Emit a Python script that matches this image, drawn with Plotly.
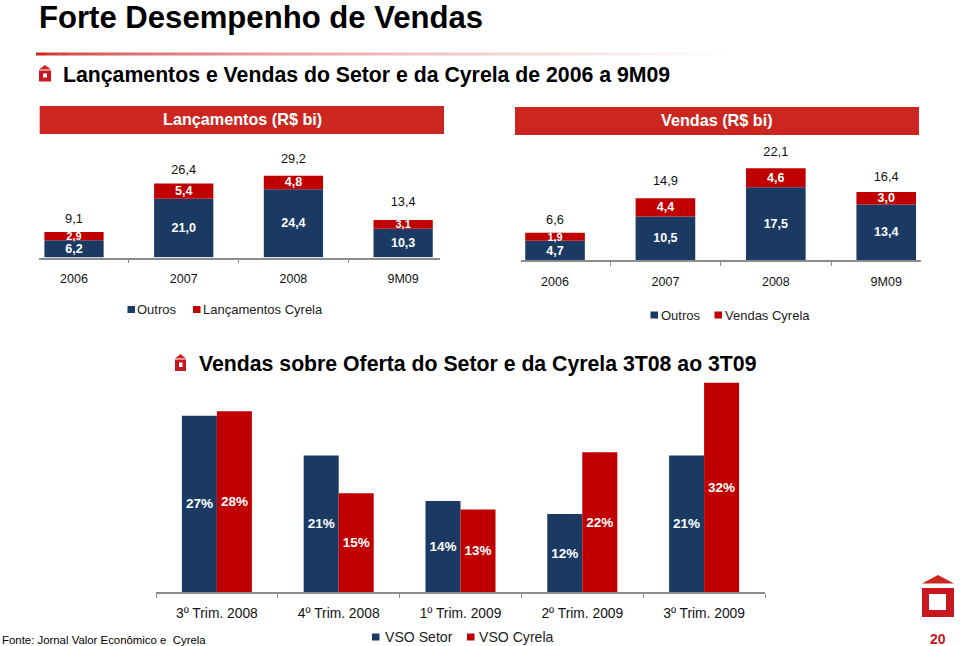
import plotly.graph_objects as go

# ---- data ----
anos = ["2006", "2007", "2008", "9M09"]
lanc_outros = [6.2, 21.0, 24.4, 10.3]
lanc_cyrela = [2.9, 5.4, 4.8, 3.1]
lanc_total = [9.1, 26.4, 29.2, 13.4]
vend_outros = [4.7, 10.5, 17.5, 13.4]
vend_cyrela = [1.9, 4.4, 4.6, 3.0]
vend_total = [6.6, 14.9, 22.1, 16.4]
trimestres = ["3º Trim. 2008", "4º Trim. 2008", "1º Trim. 2009", "2º Trim. 2009", "3º Trim. 2009"]
vso_setor = [27.1, 21.0, 14.0, 12.0, 21.0]
vso_cyrela = [27.8, 15.2, 12.7, 21.5, 32.2]

W, H = 960, 646
NAVY, RED, BANNER = "#1a3a63", "#c00000", "#cb2720"
FONT = "Liberation Sans"


def X(p):
    return p / W


def Y(p):
    return 1 - p / H


fig = go.Figure()
BW = 0.54


def stacked(xa, ya, cats, low, high, total, sizes_low, sizes_high, lift):
    fig.add_bar(x=cats, y=low, xaxis=xa, yaxis=ya, width=BW, offset=-BW / 2, marker_color=NAVY,
                marker_line_width=0, showlegend=False, texttemplate="%{y:.1f}", textposition="inside",
                insidetextanchor="middle", constraintext="none", textangle=0,
                textfont=dict(color="white", size=sizes_low, family=FONT, weight="bold"))
    fig.add_bar(x=cats, y=high, base=low, xaxis=xa, yaxis=ya, width=BW, offset=-BW / 2, marker_color=RED,
                marker_line_width=0, showlegend=False, texttemplate="%{y:.1f}", textposition="inside",
                insidetextanchor="middle", constraintext="none", textangle=0,
                textfont=dict(color="white", size=sizes_high, family=FONT, weight="bold"))
    # transparent markers only push the total labels up off the bars
    fig.add_scatter(x=cats, y=total, xaxis=xa, yaxis=ya, mode="markers+text", showlegend=False,
                    marker=dict(size=[1.6 * (e + 1) for e in lift], color="rgba(0,0,0,0)", line_width=0),
                    texttemplate="%{y:.1f}", textposition="top center", cliponaxis=False,
                    textfont=dict(color="#111111", size=12.8, family=FONT))


stacked("x", "y", anos, lanc_outros, lanc_cyrela, lanc_total, [12.5] * 4, [11, 12.5, 12.5, 11], [4, 4, 8, 9])
stacked("x2", "y2", anos, vend_outros, vend_cyrela, vend_total, [12.5] * 4, [11, 12.5, 12.5, 12.5], [4, 8, 6.5, 6])

GW = 0.2874
for vals, col, off in ((vso_setor, NAVY, -GW), (vso_cyrela, RED, 0)):
    fig.add_bar(x=trimestres, y=vals, xaxis="x3", yaxis="y3", width=GW, offset=off, marker_color=col,
                marker_line_width=0, showlegend=False, texttemplate="%{y:.0f}%", textposition="inside",
                insidetextanchor="middle", constraintext="none", textangle=0,
                textfont=dict(color="white", size=13.5, family=FONT, weight="bold"))


def xaxis(x0, x1, rng, size, standoff):
    return dict(domain=[X(x0), X(x1)], range=rng, type="category", tickson="boundaries", ticks="outside",
                ticklen=4, tickwidth=1, tickcolor="#8c8c8c", showline=True, linecolor="#8c8c8c", linewidth=1.5,
                showgrid=False, zeroline=False, fixedrange=True, ticklabelstandoff=standoff,
                tickfont=dict(size=size, family=FONT, color="#111111"))


def yaxis(top, bottom, scale, anchor):
    return dict(domain=[Y(bottom), Y(top)], range=[0, (bottom - top) / scale], visible=False,
                fixedrange=True, anchor=anchor)


fig.update_layout(
    width=W, height=H, margin=dict(l=0, r=0, t=0, b=0), autosize=False, barmode="overlay",
    separators=",.", plot_bgcolor="white", paper_bgcolor="white", showlegend=False,
    font=dict(family=FONT),
    xaxis=xaxis(39, 440, [-0.319, 3.336], 12.5, 9), yaxis=yaxis(130, 257.5, 2.8, "x"),
    xaxis2=dict(xaxis(520.7, 921, [-0.311, 3.315], 12.5, 9), anchor="y2"), yaxis2=yaxis(135, 260.3, 4.17, "x2"),
    xaxis3=dict(xaxis(156, 765, [-0.5, 4.5], 13.8, 8), anchor="y3"), yaxis3=yaxis(375, 592, 6.5, "x3"),
)

shapes, notes = [], []


def rect(x0, y0, x1, y1, col):
    shapes.append(dict(type="rect", xref="paper", yref="paper", x0=X(x0), x1=X(x1), y0=Y(y1), y1=Y(y0),
                       fillcolor=col, line_width=0, layer="below"))


def tri(x0, x1, ytop, ybot, col):
    xm = (x0 + x1) / 2
    shapes.append(dict(type="path", xref="paper", yref="paper", fillcolor=col, line_width=0, layer="below",
                       path=f"M{X(x0)},{Y(ybot)} L{X(xm)},{Y(ytop)} L{X(x1)},{Y(ybot)} Z"))


def text(x, y, s, size, col="#000000", bold=False, anchor="left"):
    notes.append(dict(xref="paper", yref="paper", x=X(x), y=Y(y), text=f"<b>{s}</b>" if bold else s,
                      showarrow=False, xanchor=anchor, yanchor="middle", borderpad=0, borderwidth=0,
                      font=dict(size=size, color=col, family=FONT)))


def house(x0, x1, ytop, ytri, ybody, ybot, ix0, ix1, iy0, iy1):
    tri(x0, x1, ytop, ytri, BANNER)
    rect(x0, ybody, x1, ybot, "#c8171e")
    rect(ix0, iy0, ix1, iy1, "#ffffff")


# title rule fading to white
N = 70
for i in range(N):
    t = i / (N - 1)
    f = t ** 0.55
    c = [int(a + (255 - a) * f) for a in (0xcc, 0x27, 0x22)]
    rect(36 + 700 * i / N, 52.5, 36 + 700 * (i + 1) / N + 0.5, 55.5, f"rgb({c[0]},{c[1]},{c[2]})")

text(39, 18, "Forte Desempenho de Vendas", 31.1, bold=True)
text(63, 75, "Lançamentos e Vendas do Setor e da Cyrela de 2006 a 9M09", 21.25, bold=True)
text(199, 364, "Vendas sobre Oferta do Setor e da Cyrela 3T08 ao 3T09", 21.25, bold=True)

rect(39.7, 106, 444, 134, BANNER)
rect(515, 107, 919, 135, BANNER)
text(242, 119, "Lançamentos (R$ bi)", 16.2, "white", True, "center")
text(717, 120.5, "Vendas (R$ bi)", 16.2, "white", True, "center")

house(39, 51, 65, 69.5, 70.5, 81.5, 43, 47, 73.5, 77.5)
house(175, 186, 354, 358.5, 359.5, 371, 179, 182.5, 362.5, 367)
house(922, 954, 575, 583.5, 588, 617, 929, 946, 594, 610)
text(938, 639, "20", 14, "#c8171e", True, "center")
text(2, 639.5, "Fonte: Jornal Valor Econômico e  Cyrela", 11.4)

for mx, tx, y, name, col, size in (
    (127.5, 137, 309.5, "Outros", NAVY, 13),
    (193, 203, 309.5, "Lançamentos Cyrela", RED, 13),
    (650.5, 661, 315, "Outros", NAVY, 13),
    (714.5, 725, 315, "Vendas Cyrela", RED, 13),
    (372, 384.5, 637, "VSO Setor", NAVY, 14.1),
    (467, 479, 637, "VSO Cyrela", RED, 14.1),
):
    rect(mx, y - 3.5, mx + 7.5, y + 3.5, col)
    text(tx, y, name, size, "#222222")

fig.update_layout(shapes=shapes, annotations=notes)
fig.write_html("out.html", config={"displayModeBar": False}, post_script="document.body.style.margin='0';")
